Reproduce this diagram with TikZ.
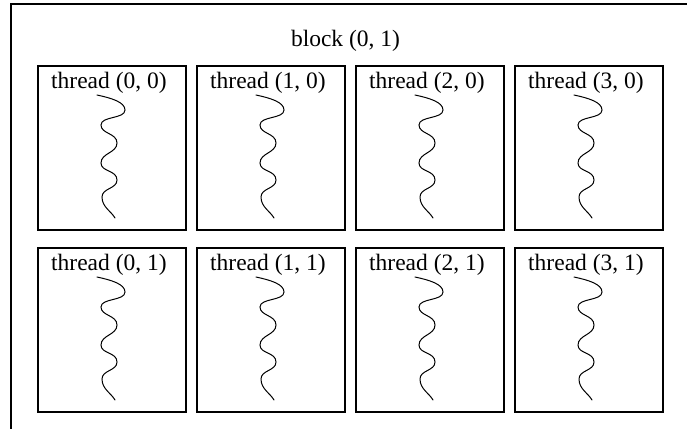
\documentclass[tikz,border=0pt]{standalone}
\usepackage{fontspec}
\setmainfont{Liberation Serif}
\begin{document}
\begin{tikzpicture}[x=1pt,y=-1pt,
  frame/.style={draw, line width=1.6pt, inner sep=0pt, outer sep=0pt, anchor=north west},
  tbox/.style={draw, line width=1.6pt, minimum width=148pt, minimum height=164pt,
               inner sep=0pt, outer sep=0pt, anchor=north west},
  lbl/.style={font=\fontsize{23.5}{28}\selectfont, inner sep=0pt},
  strand/.style={line width=1pt, line cap=round},
  wiggle/.pic={\draw[strand] (0,0)
      .. controls (14,3) and (28,7) .. (28,15)
      .. controls (28,24) and (4,21) .. (4,30)
      .. controls (4,39) and (20,38) .. (20,48)
      .. controls (20,58) and (4,58) .. (4,68)
      .. controls (4,77) and (20,75) .. (20,85)
      .. controls (20,94) and (5,93) .. (5,102)
      .. controls (5,112) and (14,116) .. (18,123);}]
\clip (0,0) rectangle (687,428);
% enclosing block (extends past the page on the right and bottom)
\node[frame, minimum width=680pt, minimum height=470pt] (blk) at (11,4) {};
\node[lbl, anchor=base] (blklbl) at (345.5,46) {block (0, 1)};
% 4 x 2 grid of threads
\foreach \i in {0,...,3} {
  \foreach \j in {0,1} {
    \node[tbox] (t\i\j) at ({38+159*\i},{66+182*\j}) {};
    \node[lbl, anchor=base west] (l\i\j) at ({51+159*\i},{88+182*\j}) {thread (\i, \j)};
    \pic at ({97+159*\i},{95+182*\j}) {wiggle};
  }
}
\end{tikzpicture}
\end{document}
